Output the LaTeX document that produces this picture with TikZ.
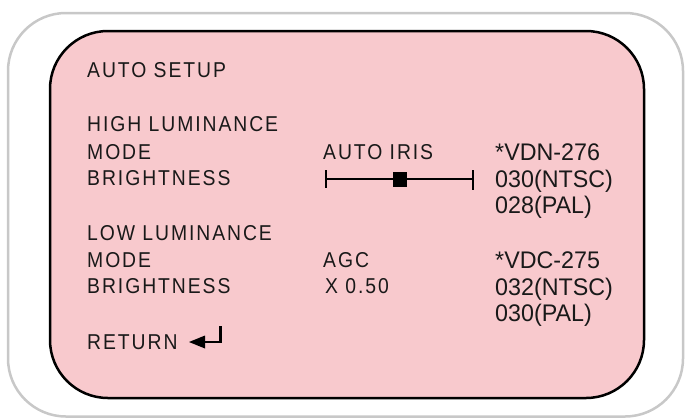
\documentclass[tikz,border=0pt]{standalone}
\usepackage{fontspec}
\newfontfamily\osdfont[FakeStretch=0.9,LetterSpace=9]{Liberation Sans}
\newfontfamily\valfont[FakeStretch=0.97]{Liberation Sans}
\definecolor{pinkfill}{RGB}{248,201,205}
\definecolor{greyframe}{RGB}{200,200,200}
\tikzset{
  lbl/.style={anchor=base west, inner sep=0pt, font=\osdfont\fontsize{21.5}{21.5}\selectfont, text=black!90},
  val/.style={anchor=base west, inner sep=0pt, font=\valfont\fontsize{24}{24}\selectfont, text=black!90},
  frame/.style={line width=2.5pt, rounded corners=58pt},
  bar/.style={line width=2pt, black}
}
\begin{document}
\begin{tikzpicture}[x=1pt,y=-1pt]
\useasboundingbox (0,0) rectangle (685,418);
\draw[frame, greyframe, fill=white] (8,13) rectangle (683,416.5);
\draw[frame, black, fill=pinkfill] (50,31) rectangle (644,398);

\node[lbl] (title) at (87,77) {AUTO SETUP};
\node[lbl] (high) at (87,131) {HIGH LUMINANCE};
\node[lbl] (mode1) at (87,159) {MODE};
\node[lbl] (bright1) at (87,185) {BRIGHTNESS};
\node[lbl] (low) at (87,240) {LOW LUMINANCE};
\node[lbl] (mode2) at (87,267) {MODE};
\node[lbl] (bright2) at (87,293) {BRIGHTNESS};
\node[lbl] (ret) at (87,349) {RETURN};

\node[lbl] (iris) at (323,159) {AUTO IRIS};
\node[lbl] (agc) at (323,267) {AGC};
\node[lbl] (gain) at (325,293) {X 0.50};

\node[val] (vdn) at (495,160) {*VDN-276};
\node[val] (ntsc1) at (495,187) {030(NTSC)};
\node[val] (pal1) at (495,213) {028(PAL)};
\node[val] (vdc) at (495,268) {*VDC-275};
\node[val] (ntsc2) at (495,295) {032(NTSC)};
\node[val] (pal2) at (495,321) {030(PAL)};

% slider
\coordinate (sl) at (326,179);
\coordinate (sr) at (473,179);
\draw[bar] (sl) -- (sr);
\draw[bar] (326,170) -- (326,188);
\draw[bar] (473,170) -- (473,190);
\fill[black] (393,172) rectangle (407,187);

% return arrow
\coordinate (rtip) at (189,342);
\fill[black] (rtip) -- (205,335.5) -- (205,348.5) -- cycle;
\draw[line width=2.5pt, black] (204,342) -- (220.5,342) -- (220.5,326);
\end{tikzpicture}
\end{document}
